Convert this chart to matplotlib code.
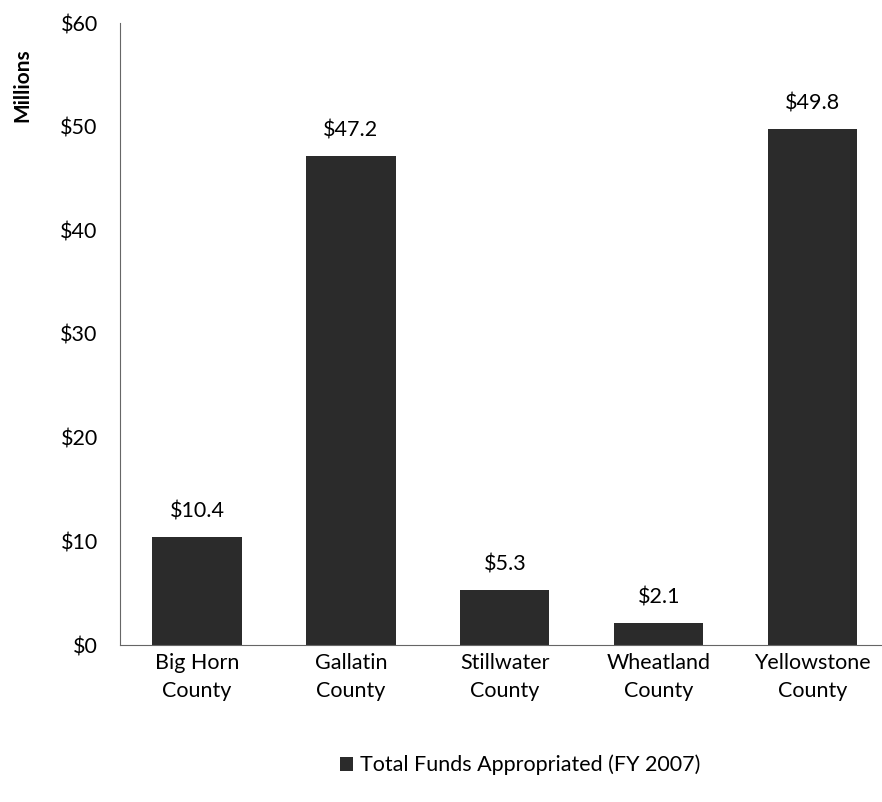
import matplotlib
matplotlib.use("Agg")
import matplotlib.pyplot as plt
from matplotlib.ticker import FuncFormatter

counties = ["Big Horn\nCounty", "Gallatin\nCounty", "Stillwater\nCounty",
            "Wheatland\nCounty", "Yellowstone\nCounty"]
funds = [10.4, 47.2, 5.3, 2.1, 49.8]
series_label = "Total Funds Appropriated (FY 2007)"

plt.rcParams["font.family"] = ["Lato", "DejaVu Sans"]

fig = plt.figure(figsize=(8.82, 8.02), dpi=100)
ax = fig.add_axes([120 / 882, 1 - 645 / 802, 1 - 120 / 882, (645 - 23) / 802])

x = list(range(len(counties)))
bars = ax.bar(x, funds, width=0.58, color="#2b2b2b", label=series_label)
for xi, v in zip(x, funds):
    ax.text(xi, v + 1.5, f"${v:.1f}", ha="center", va="bottom", fontsize=15.5)

ax.set_ylim(0, 60)
ax.set_xlim(-0.5, 4.45)
ax.set_yticks(range(0, 61, 10))
ax.yaxis.set_major_formatter(FuncFormatter(lambda v, p: f"${v:.0f}"))
ax.set_xticks(x)
ax.set_xticklabels(counties, fontsize=15.5, linespacing=1.45)
ax.tick_params(axis="y", labelsize=15.5, length=0, pad=16)
ax.tick_params(axis="x", length=0, pad=6)
for s in ["top", "right"]:
    ax.spines[s].set_visible(False)
ax.spines["left"].set_color("#666666")
ax.spines["bottom"].set_color("#666666")
ax.set_ylabel("Millions", fontsize=15, fontweight="bold")
ax.yaxis.set_label_coords(-0.115, 0.90)

fig.legend(handles=[bars], labels=[series_label], loc="center",
           bbox_to_anchor=(520 / 882, 1 - 765 / 802), frameon=False,
           fontsize=15.5, handlelength=0.6, handleheight=0.6, handletextpad=0.3)

fig.savefig("out.png", dpi=100)
